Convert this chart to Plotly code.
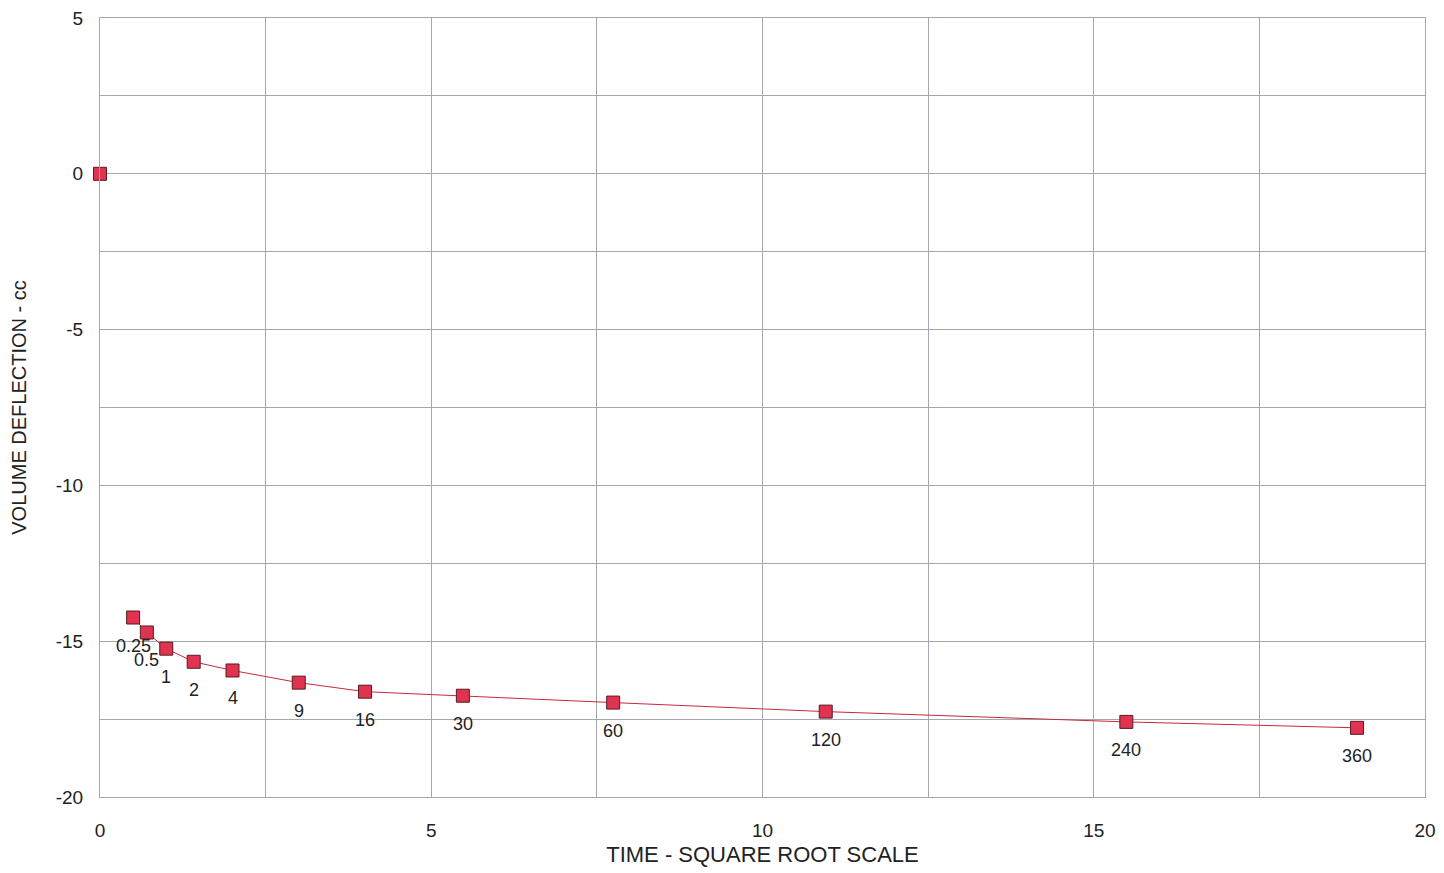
import plotly.graph_objects as go
import numpy as np

time_labels = ["0", "0.25", "0.5", "1", "2", "4", "9", "16", "30", "60", "120", "240", "360"]
time_minutes = [0, 0.25, 0.5, 1, 2, 4, 9, 16, 30, 60, 120, 240, 360]
volume_deflection = [0.0, -14.24, -14.72, -15.24, -15.66, -15.94, -16.33, -16.62, -16.75, -16.97, -17.26, -17.59, -17.78]

x_ticks = [0, 5, 10, 15, 20]
y_ticks = [5, 0, -5, -10, -15, -20]

x = np.sqrt(np.array(time_minutes, dtype=float))
y = np.array(volume_deflection)

font = "Liberation Sans, Arial, sans-serif"
grid = "#a3a8b0"
fig = go.Figure()

fig.add_trace(go.Scatter(x=x[1:], y=y[1:], mode="lines",
                         line=dict(color="#c8283c", width=1), hoverinfo="skip", showlegend=False))
fig.add_trace(go.Scatter(x=x, y=y, mode="markers",
                         marker=dict(symbol="square", size=13, color="#e0334f",
                                     line=dict(color="#5a1a22", width=1)),
                         cliponaxis=False, showlegend=False))

for xi, yi, lab in zip(x[1:], y[1:], time_labels[1:]):
    fig.add_annotation(x=xi, y=yi, text=lab, showarrow=False, yshift=-28,
                       font=dict(family=font, size=18, color="#222222"))

fig.update_layout(
    width=1444, height=873,
    margin=dict(l=92, r=27, t=10, b=84),
    paper_bgcolor="white", plot_bgcolor="white",
    font=dict(family=font, size=19, color="#222222"),
    xaxis=dict(range=[0, 20], showgrid=True, gridcolor=grid, gridwidth=1,
               zeroline=False, showline=True, mirror=True, linecolor=grid, linewidth=1,
               automargin=False, ticklabeloverflow="allow",
               tickvals=x_ticks, ticktext=[str(v) for v in x_ticks],
               tickfont=dict(size=19), ticklabelstandoff=16,
               minor=dict(dtick=2.5, tick0=0, showgrid=True, gridcolor=grid, gridwidth=1),
               title=dict(text="TIME - SQUARE ROOT SCALE", font=dict(size=22), standoff=6)),
    yaxis=dict(range=[-20, 5], zeroline=False, showgrid=True,
               showline=True, mirror=True, linecolor=grid, linewidth=1,
               gridcolor=grid, gridwidth=1, automargin=False, ticklabeloverflow="allow",
               tickvals=y_ticks, ticktext=[str(v) for v in y_ticks],
               tickfont=dict(size=19), ticklabelstandoff=12,
               minor=dict(dtick=2.5, tick0=0, showgrid=True, gridcolor=grid, gridwidth=1),
               title=dict(text="VOLUME DEFLECTION - cc", font=dict(size=20), standoff=26)),
)

fig.write_html("out.html")
